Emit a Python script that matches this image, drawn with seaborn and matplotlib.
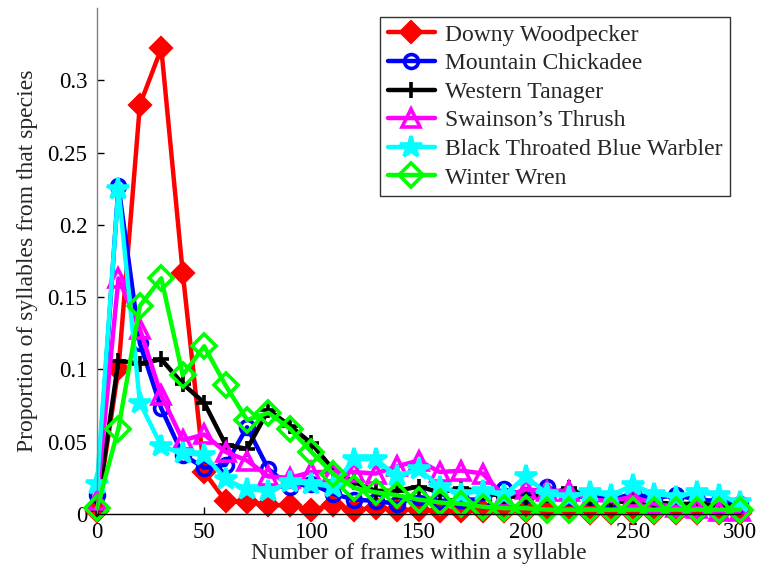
import matplotlib
matplotlib.use("Agg")
import matplotlib.pyplot as plt
import seaborn as sns
import numpy as np
from matplotlib.ticker import FuncFormatter, MultipleLocator

frames = list(range(0, 301, 10))

downy = [0.002, 0.100, 0.283, 0.322, 0.167, 0.029, 0.009, 0.008, 0.006, 0.006,
         0.003, 0.006, 0.003, 0.004, 0.003, 0.003, 0.002, 0.002, 0.002, 0.002,
         0.002, 0.002, 0.002, 0.001, 0.001, 0.001, 0.001, 0.001, 0.001, 0.001, 0.001]
chickadee = [0.013, 0.227, 0.118, 0.073, 0.041, 0.032, 0.034, 0.060, 0.031, 0.019,
             0.021, 0.014, 0.010, 0.009, 0.007, 0.012, 0.009, 0.010, 0.010, 0.017,
             0.013, 0.019, 0.012, 0.012, 0.010, 0.014, 0.011, 0.013, 0.010, 0.009, 0.007]
tanager = [0.003, 0.106, 0.104, 0.107, 0.090, 0.077, 0.048, 0.045, 0.072, 0.061,
           0.049, 0.031, 0.022, 0.016, 0.016, 0.019, 0.015, 0.018, 0.015, 0.012,
           0.012, 0.013, 0.018, 0.011, 0.009, 0.008, 0.008, 0.007, 0.007, 0.006, 0.006]
thrush = [0.010, 0.163, 0.128, 0.082, 0.051, 0.055, 0.043, 0.037, 0.026, 0.025,
          0.029, 0.029, 0.029, 0.028, 0.033, 0.037, 0.029, 0.030, 0.028, 0.012,
          0.017, 0.016, 0.016, 0.010, 0.009, 0.012, 0.007, 0.005, 0.004, 0.002, 0.002]
warbler = [0.021, 0.225, 0.077, 0.047, 0.042, 0.041, 0.024, 0.017, 0.016, 0.022,
           0.021, 0.019, 0.038, 0.038, 0.026, 0.031, 0.019, 0.014, 0.016, 0.013,
           0.026, 0.014, 0.012, 0.015, 0.013, 0.020, 0.014, 0.012, 0.015, 0.013, 0.008]
wren = [0.004, 0.059, 0.144, 0.163, 0.096, 0.116, 0.089, 0.065, 0.070, 0.059,
        0.043, 0.028, 0.018, 0.015, 0.013, 0.010, 0.008, 0.007, 0.005, 0.004,
        0.004, 0.003, 0.003, 0.003, 0.003, 0.003, 0.003, 0.003, 0.003, 0.003, 0.003]

series_names = ["Downy Woodpecker", "Mountain Chickadee", "Western Tanager",
                "Swainson\u2019s Thrush", "Black Throated Blue Warbler", "Winter Wren"]
series_values = [downy, chickadee, tanager, thrush, warbler, wren]
colors = ["#ff0000", "#0000ff", "#000000", "#ff00ff", "#00ffff", "#00ff00"]
markers = ["D", "o", "+", "^", "*", "D"]
msizes = [10, 10, 12, 13, 16, 12]
faces = ["#ff0000", "none", "#000000", "none", "#00ffff", "none"]

sns.set_style("white")
plt.rcParams["font.family"] = ["Liberation Serif", "DejaVu Serif"]

fig = plt.figure(figsize=(7.57, 5.74), dpi=100)
ax = fig.add_axes([97 / 757, 60 / 574, (740 - 97) / 757, (514 - 8) / 574])

for name, vals, c, m, ms, fc in zip(series_names, series_values, colors, markers, msizes, faces):
    sns.lineplot(x=frames, y=vals, ax=ax, color=c, linewidth=3.2, marker=m,
                 markersize=ms, markerfacecolor=fc, markeredgecolor=c,
                 markeredgewidth=2.6, label=name, clip_on=False)

ax.set_xlim(0, 300)
ax.set_ylim(0, 0.35)
ax.xaxis.set_major_locator(MultipleLocator(50))
ax.yaxis.set_major_formatter(FuncFormatter(lambda v, p: "%g" % round(v, 4)))
ax.set_yticks([0, 0.05, 0.1, 0.15, 0.2, 0.25, 0.3])

for s in ["top", "right"]:
    ax.spines[s].set_visible(False)
ax.spines["left"].set_color("#808080")
ax.spines["bottom"].set_color("#000000")
ax.spines["left"].set_linewidth(1.0)
ax.spines["bottom"].set_linewidth(1.0)
ax.tick_params(direction="in", length=5, width=1, labelsize=16.5, colors="black",
               left=True, bottom=True)
ax.tick_params(axis="y", pad=7)
ax.tick_params(axis="x", pad=6)

ax.set_xlabel("Number of frames within a syllable", fontsize=17, labelpad=0)
ax.set_ylabel("Proportion of syllables from that species", fontsize=17, labelpad=7)

leg = ax.legend(loc="upper right", bbox_to_anchor=(730 / 757, 1 - 17 / 574),
                bbox_transform=fig.transFigure, borderaxespad=0,
                fontsize=17, handlelength=2.0, labelspacing=0.3,
                frameon=True, fancybox=False, edgecolor="black",
                borderpad=0.3, handletextpad=0.45)
leg.get_frame().set_linewidth(1.0)

fig.savefig("out.png", dpi=100)
